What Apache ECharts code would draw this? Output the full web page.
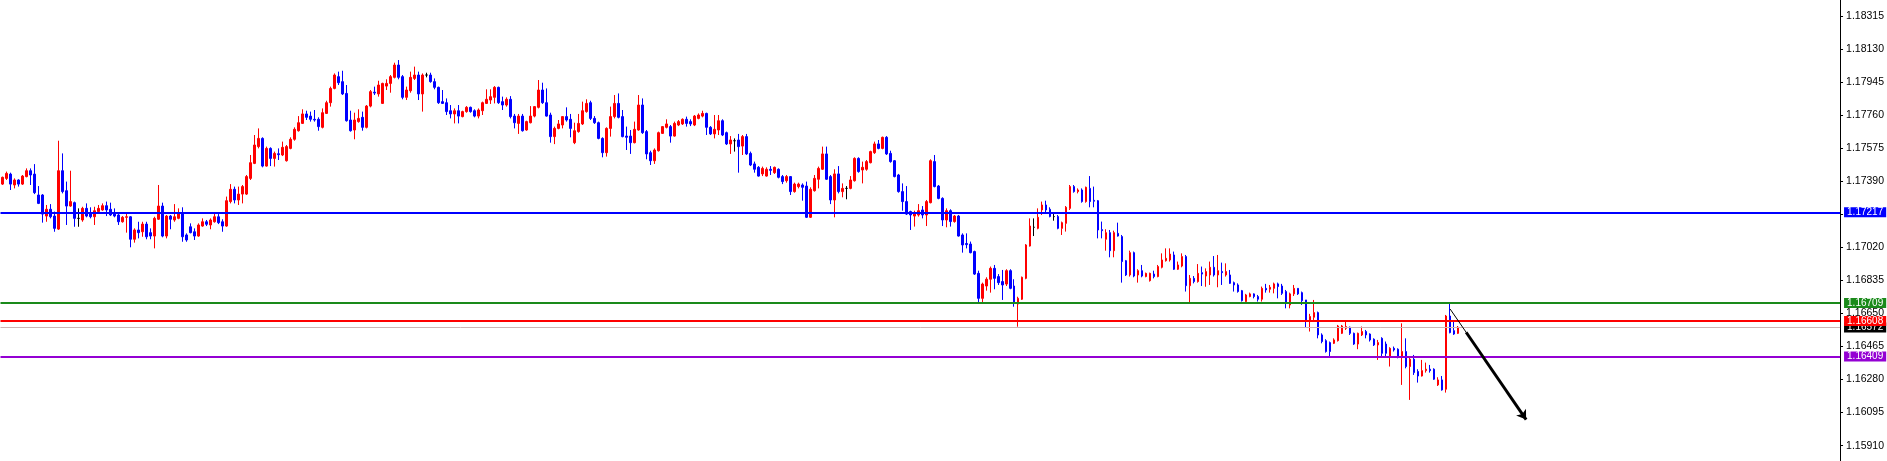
<!DOCTYPE html>
<html><head><meta charset="utf-8">
<script src="https://cdn.jsdelivr.net/npm/echarts@6/dist/echarts.min.js"></script>
<style>html,body{margin:0;padding:0;background:#fff;}#c{width:1887px;height:461px;}</style>
</head><body><div id="c"></div>
<script>
// [open, close, low, high]
const candles = [
[1.17375,1.17413,1.17370,1.17417],[1.17407,1.17435,1.17398,1.17445],[1.17431,1.17375,1.17342,1.17439],[1.17370,1.17398,1.17351,1.17407],
[1.17398,1.17375,1.17361,1.17402],[1.17375,1.17420,1.17370,1.17426],[1.17417,1.17450,1.17413,1.17463],[1.17450,1.17426,1.17370,1.17463],
[1.17431,1.17327,1.17319,1.17487],[1.17314,1.17267,1.17263,1.17364],[1.17314,1.17207,1.17159,1.17319],[1.17196,1.17234,1.17164,1.17258],
[1.17234,1.17192,1.17183,1.17263],[1.17196,1.17127,1.17108,1.17221],[1.17123,1.17450,1.17118,1.17618],[1.17450,1.17333,1.17323,1.17547],
[1.17338,1.17252,1.17146,1.17389],[1.17252,1.17277,1.17248,1.17450],[1.17271,1.17183,1.17136,1.17277],[1.17183,1.17183,1.17136,1.17239],
[1.17174,1.17239,1.17164,1.17248],[1.17239,1.17196,1.17189,1.17267],[1.17215,1.17192,1.17183,1.17245],[1.17192,1.17226,1.17146,1.17248],
[1.17221,1.17239,1.17211,1.17258],[1.17230,1.17254,1.17226,1.17267],[1.17254,1.17230,1.17196,1.17277],[1.17234,1.17202,1.17196,1.17271],
[1.17215,1.17196,1.17189,1.17239],[1.17202,1.17164,1.17146,1.17211],[1.17164,1.17189,1.17159,1.17196],[1.17189,1.17192,1.17103,1.17211],
[1.17192,1.17066,1.17021,1.17196],[1.17066,1.17118,1.17047,1.17127],[1.17118,1.17103,1.17071,1.17164],[1.17108,1.17151,1.17080,1.17164],
[1.17151,1.17080,1.17066,1.17164],[1.17103,1.17084,1.17066,1.17127],[1.17084,1.17183,1.17015,1.17192],[1.17178,1.17252,1.17174,1.17370],
[1.17252,1.17084,1.17077,1.17271],[1.17084,1.17196,1.17071,1.17202],[1.17196,1.17178,1.17122,1.17202],[1.17174,1.17192,1.17164,1.17263],
[1.17183,1.17215,1.17178,1.17239],[1.17215,1.17080,1.17052,1.17245],[1.17090,1.17062,1.17052,1.17099],[1.17136,1.17103,1.17099,1.17155],
[1.17108,1.17084,1.17062,1.17127],[1.17084,1.17146,1.17080,1.17155],[1.17140,1.17164,1.17136,1.17183],[1.17164,1.17150,1.17140,1.17174],
[1.17146,1.17174,1.17122,1.17183],[1.17164,1.17192,1.17159,1.17211],[1.17192,1.17159,1.17151,1.17207],[1.17164,1.17140,1.17108,1.17178],
[1.17140,1.17282,1.17136,1.17305],[1.17277,1.17346,1.17267,1.17375],[1.17346,1.17286,1.17267,1.17361],[1.17286,1.17319,1.17258,1.17361],
[1.17319,1.17361,1.17267,1.17370],[1.17319,1.17417,1.17314,1.17426],[1.17407,1.17495,1.17398,1.17538],[1.17491,1.17594,1.17487,1.17650],
[1.17585,1.17631,1.17575,1.17687],[1.17631,1.17476,1.17469,1.17637],[1.17476,1.17575,1.17473,1.17585],[1.17575,1.17519,1.17476,1.17581],
[1.17519,1.17547,1.17473,1.17557],[1.17545,1.17540,1.17510,1.17575],[1.17538,1.17581,1.17532,1.17613],[1.17506,1.17585,1.17501,1.17594],
[1.17575,1.17626,1.17570,1.17637],[1.17626,1.17682,1.17618,1.17693],[1.17674,1.17719,1.17669,1.17756],[1.17715,1.17768,1.17712,1.17794],
[1.17768,1.17749,1.17734,1.17786],[1.17756,1.17738,1.17725,1.17781],[1.17738,1.17734,1.17725,1.17790],[1.17738,1.17697,1.17674,1.17749],
[1.17693,1.17775,1.17687,1.17799],[1.17771,1.17831,1.17768,1.17842],[1.17831,1.17911,1.17809,1.17921],[1.17911,1.17986,1.17906,1.17995],
[1.17977,1.17943,1.17930,1.18005],[1.17949,1.17880,1.17874,1.18010],[1.17883,1.17730,1.17725,1.17930],[1.17734,1.17674,1.17669,1.17786],
[1.17678,1.17734,1.17626,1.17775],[1.17725,1.17743,1.17719,1.17794],[1.17749,1.17693,1.17674,1.17781],[1.17693,1.17812,1.17687,1.17818],
[1.17812,1.17893,1.17805,1.17902],[1.17890,1.17885,1.17874,1.17921],[1.17880,1.17930,1.17865,1.17954],[1.17827,1.17939,1.17824,1.17943],
[1.17924,1.17939,1.17902,1.17962],[1.17939,1.17977,1.17887,1.17986],[1.17973,1.18042,1.17967,1.18055],[1.18042,1.17973,1.17962,1.18070],
[1.17977,1.17861,1.17850,1.17986],[1.17861,1.17902,1.17846,1.17921],[1.17898,1.17973,1.17887,1.18005],[1.17967,1.17986,1.17958,1.18033],
[1.17986,1.17880,1.17846,1.18005],[1.17880,1.17986,1.17781,1.17995],[1.17986,1.17986,1.17973,1.17999],[1.17986,1.17949,1.17943,1.17999],
[1.17949,1.17917,1.17906,1.17967],[1.17917,1.17831,1.17824,1.17921],[1.17837,1.17827,1.17824,1.17902],[1.17831,1.17781,1.17762,1.17855],
[1.17786,1.17768,1.17743,1.17818],[1.17768,1.17786,1.17715,1.17799],[1.17786,1.17756,1.17715,1.17818],[1.17753,1.17781,1.17749,1.17786],
[1.17781,1.17805,1.17775,1.17812],[1.17805,1.17781,1.17775,1.17809],[1.17786,1.17756,1.17749,1.17794],[1.17756,1.17790,1.17743,1.17799],
[1.17786,1.17831,1.17762,1.17837],[1.17827,1.17850,1.17824,1.17906],[1.17846,1.17865,1.17824,1.17906],[1.17861,1.17917,1.17827,1.17924],
[1.17917,1.17831,1.17824,1.17921],[1.17837,1.17818,1.17790,1.17865],[1.17818,1.17850,1.17809,1.17861],[1.17850,1.17753,1.17743,1.17868],
[1.17756,1.17719,1.17687,1.17768],[1.17715,1.17756,1.17656,1.17768],[1.17756,1.17674,1.17669,1.17768],[1.17678,1.17725,1.17674,1.17730],
[1.17719,1.17756,1.17715,1.17812],[1.17756,1.17809,1.17749,1.17812],[1.17805,1.17902,1.17799,1.17958],[1.17902,1.17831,1.17824,1.17943],
[1.17831,1.17756,1.17753,1.17911],[1.17762,1.17641,1.17607,1.17775],[1.17641,1.17687,1.17599,1.17697],[1.17687,1.17712,1.17682,1.17734],
[1.17706,1.17753,1.17687,1.17756],[1.17753,1.17734,1.17725,1.17805],[1.17738,1.17687,1.17637,1.17768],[1.17607,1.17674,1.17599,1.17719],
[1.17669,1.17715,1.17663,1.17768],[1.17712,1.17786,1.17706,1.17837],[1.17781,1.17827,1.17775,1.17850],[1.17831,1.17743,1.17734,1.17842],
[1.17743,1.17719,1.17712,1.17756],[1.17719,1.17631,1.17626,1.17725],[1.17631,1.17551,1.17525,1.17637],[1.17551,1.17687,1.17529,1.17693],
[1.17687,1.17753,1.17641,1.17809],[1.17753,1.17827,1.17743,1.17874],[1.17827,1.17749,1.17743,1.17883],
[1.17753,1.17641,1.17637,1.17790],[1.17644,1.17637,1.17566,1.17697],[1.17644,1.17607,1.17544,1.17678],[1.17607,1.17682,1.17603,1.17725],
[1.17678,1.17818,1.17674,1.17874],[1.17818,1.17663,1.17656,1.17855],[1.17669,1.17544,1.17514,1.17678],[1.17551,1.17506,1.17482,1.17562],
[1.17506,1.17566,1.17488,1.17575],[1.17562,1.17663,1.17557,1.17669],[1.17659,1.17697,1.17656,1.17700],[1.17693,1.17712,1.17687,1.17738],
[1.17697,1.17644,1.17607,1.17706],[1.17644,1.17715,1.17641,1.17725],[1.17706,1.17725,1.17700,1.17734],[1.17712,1.17738,1.17706,1.17743],
[1.17738,1.17715,1.17697,1.17753],[1.17725,1.17712,1.17700,1.17738],[1.17706,1.17756,1.17700,1.17762],[1.17743,1.17762,1.17738,1.17771],
[1.17756,1.17771,1.17749,1.17786],[1.17771,1.17693,1.17650,1.17775],[1.17693,1.17656,1.17650,1.17700],[1.17656,1.17682,1.17631,1.17762],
[1.17678,1.17730,1.17650,1.17762],[1.17730,1.17650,1.17644,1.17738],[1.17663,1.17600,1.17594,1.17669],[1.17600,1.17622,1.17544,1.17644],
[1.17618,1.17618,1.17557,1.17631],[1.17622,1.17585,1.17439,1.17656],[1.17588,1.17641,1.17538,1.17650],[1.17641,1.17544,1.17538,1.17656],
[1.17547,1.17482,1.17476,1.17557],[1.17488,1.17458,1.17439,1.17501],[1.17469,1.17420,1.17417,1.17476],[1.17432,1.17463,1.17420,1.17473],
[1.17420,1.17458,1.17417,1.17469],[1.17458,1.17452,1.17426,1.17476],[1.17439,1.17469,1.17432,1.17473],[1.17458,1.17413,1.17407,1.17463],
[1.17417,1.17389,1.17375,1.17426],[1.17394,1.17417,1.17383,1.17426],[1.17417,1.17333,1.17314,1.17420],[1.17333,1.17375,1.17327,1.17383],
[1.17361,1.17375,1.17351,1.17383],[1.17370,1.17357,1.17282,1.17379],[1.17364,1.17189,1.17185,1.17389],[1.17189,1.17346,1.17185,1.17357],
[1.17338,1.17407,1.17333,1.17426],[1.17402,1.17463,1.17351,1.17473],[1.17458,1.17544,1.17454,1.17585],[1.17544,1.17402,1.17398,1.17585],
[1.17417,1.17286,1.17263,1.17426],[1.17286,1.17432,1.17189,1.17458],[1.17432,1.17333,1.17323,1.17476],[1.17333,1.17351,1.17301,1.17379],
[1.17351,1.17351,1.17290,1.17364],[1.17351,1.17398,1.17346,1.17420],[1.17394,1.17519,1.17389,1.17525],[1.17519,1.17445,1.17439,1.17525],
[1.17454,1.17469,1.17379,1.17501],[1.17458,1.17501,1.17450,1.17510],[1.17495,1.17557,1.17491,1.17562],[1.17551,1.17600,1.17544,1.17613],
[1.17600,1.17575,1.17570,1.17622],[1.17575,1.17637,1.17570,1.17641],[1.17637,1.17544,1.17538,1.17644],[1.17547,1.17501,1.17495,1.17562],
[1.17506,1.17417,1.17413,1.17510],[1.17426,1.17333,1.17327,1.17432],[1.17333,1.17277,1.17226,1.17379],[1.17277,1.17207,1.17202,1.17364],
[1.17221,1.17202,1.17118,1.17226],[1.17196,1.17215,1.17137,1.17226],[1.17202,1.17226,1.17193,1.17263],
[1.17230,1.17202,1.17183,1.17252],[1.17202,1.17277,1.17140,1.17286],[1.17271,1.17506,1.17267,1.17514],[1.17501,1.17361,1.17357,1.17538],
[1.17364,1.17295,1.17290,1.17370],[1.17295,1.17174,1.17140,1.17301],[1.17174,1.17226,1.17133,1.17239],[1.17226,1.17165,1.17137,1.17234],
[1.17165,1.17196,1.17159,1.17202],[1.17196,1.17084,1.17081,1.17202],[1.17090,1.17034,1.16991,1.17099],[1.17042,1.17036,1.17015,1.17099],
[1.17039,1.16991,1.16987,1.17053],[1.16997,1.16871,1.16866,1.17002],[1.16875,1.16735,1.16711,1.16890],[1.16735,1.16815,1.16711,1.16823],
[1.16804,1.16842,1.16778,1.16853],[1.16842,1.16903,1.16767,1.16913],[1.16903,1.16847,1.16786,1.16922],[1.16857,1.16823,1.16810,1.16871],
[1.16829,1.16810,1.16726,1.16894],[1.16815,1.16890,1.16804,1.16898],[1.16890,1.16791,1.16786,1.16898],[1.16804,1.16707,1.16688,1.16842],
[1.16703,1.16735,1.16576,1.16744],[1.16730,1.16853,1.16726,1.16857],[1.16847,1.17034,1.16842,1.17039],[1.17028,1.17140,1.17025,1.17183],
[1.17133,1.17133,1.17084,1.17183],[1.17127,1.17189,1.17122,1.17239],[1.17230,1.17258,1.17202,1.17277],[1.17258,1.17230,1.17215,1.17282],
[1.17234,1.17193,1.17189,1.17245],[1.17193,1.17193,1.17170,1.17208],[1.17193,1.17127,1.17122,1.17202],[1.17127,1.17159,1.17090,1.17165],
[1.17155,1.17245,1.17109,1.17252],[1.17239,1.17361,1.17230,1.17370],[1.17361,1.17333,1.17327,1.17370],[1.17333,1.17342,1.17323,1.17351],
[1.17342,1.17277,1.17271,1.17351],[1.17277,1.17357,1.17271,1.17361],[1.17351,1.17277,1.17245,1.17420],[1.17284,1.17279,1.17245,1.17361],
[1.17282,1.17118,1.17071,1.17286],[1.17120,1.17114,1.17071,1.17165],[1.17066,1.17103,1.17002,1.17122],[1.17103,1.17002,1.16965,1.17118],
[1.17002,1.17103,1.16965,1.17114],[1.17099,1.17084,1.17081,1.17159],[1.17081,1.16941,1.16823,1.17090],[1.16946,1.16866,1.16860,1.16950],
[1.16866,1.16991,1.16857,1.17002],[1.16991,1.16860,1.16853,1.16997],[1.16866,1.16890,1.16823,1.16898],[1.16890,1.16860,1.16853,1.16922],
[1.16857,1.16875,1.16853,1.16879],[1.16834,1.16875,1.16829,1.16879],[1.16871,1.16857,1.16847,1.16890],[1.16857,1.16913,1.16853,1.16922],
[1.16909,1.16950,1.16903,1.16987],[1.16946,1.16959,1.16941,1.17015],[1.16950,1.16983,1.16941,1.17015],[1.16978,1.16898,1.16894,1.16997],
[1.16898,1.16922,1.16894,1.16941],[1.16916,1.16969,1.16909,1.16987],[1.16969,1.16806,1.16773,1.16978],[1.16806,1.16847,1.16711,1.16866],
[1.16847,1.16829,1.16819,1.16860],[1.16829,1.16875,1.16823,1.16927],[1.16879,1.16871,1.16804,1.16913],[1.16860,1.16885,1.16800,1.16903],
[1.16866,1.16909,1.16810,1.16941],[1.16909,1.16866,1.16857,1.16972],[1.16866,1.16890,1.16797,1.16978],
[1.16885,1.16879,1.16810,1.16935],[1.16866,1.16885,1.16857,1.16931],[1.16866,1.16819,1.16816,1.16894],[1.16823,1.16810,1.16773,1.16829],
[1.16810,1.16773,1.16767,1.16819],[1.16778,1.16722,1.16717,1.16782],[1.16717,1.16754,1.16711,1.16760],[1.16745,1.16760,1.16741,1.16767],
[1.16760,1.16745,1.16735,1.16763],[1.16745,1.16730,1.16717,1.16754],[1.16730,1.16791,1.16717,1.16801],[1.16791,1.16782,1.16767,1.16816],
[1.16786,1.16797,1.16767,1.16810],[1.16791,1.16816,1.16763,1.16823],[1.16816,1.16801,1.16735,1.16823],[1.16804,1.16763,1.16754,1.16816],
[1.16773,1.16707,1.16679,1.16782],[1.16698,1.16760,1.16679,1.16767],[1.16760,1.16791,1.16748,1.16810],[1.16791,1.16760,1.16754,1.16791],
[1.16767,1.16722,1.16698,1.16773],[1.16726,1.16614,1.16573,1.16726],[1.16605,1.16633,1.16549,1.16648],[1.16629,1.16655,1.16614,1.16726],
[1.16655,1.16530,1.16511,1.16661],[1.16530,1.16493,1.16483,1.16539],[1.16498,1.16437,1.16431,1.16506],[1.16487,1.16437,1.16412,1.16493],
[1.16483,1.16502,1.16479,1.16511],[1.16498,1.16580,1.16493,1.16586],[1.16539,1.16580,1.16535,1.16586],[1.16567,1.16577,1.16558,1.16605],
[1.16573,1.16539,1.16530,1.16577],[1.16539,1.16479,1.16474,1.16543],[1.16479,1.16539,1.16450,1.16543],[1.16530,1.16549,1.16524,1.16577],
[1.16549,1.16530,1.16511,1.16558],[1.16535,1.16502,1.16493,1.16539],[1.16506,1.16474,1.16468,1.16511],[1.16474,1.16487,1.16390,1.16502],
[1.16511,1.16427,1.16405,1.16517],[1.16479,1.16427,1.16409,1.16493],[1.16412,1.16455,1.16353,1.16461],[1.16455,1.16446,1.16437,1.16465],
[1.16450,1.16409,1.16399,1.16455],[1.16409,1.16437,1.16250,1.16595],[1.16437,1.16353,1.16343,1.16511],[1.16353,1.16394,1.16166,1.16405],
[1.16394,1.16319,1.16306,1.16418],[1.16325,1.16300,1.16263,1.16338],[1.16300,1.16330,1.16297,1.16390],[1.16330,1.16338,1.16319,1.16375],
[1.16338,1.16330,1.16319,1.16362],[1.16338,1.16282,1.16278,1.16343],[1.16250,1.16278,1.16244,1.16293],[1.16278,1.16222,1.16218,1.16300],
[1.16226,1.16636,1.16207,1.16642],[1.16636,1.16543,1.16539,1.16707],[1.16554,1.16535,1.16530,1.16610],[1.16539,1.16573,1.16535,1.16580]
];
const emptySlotsAfter = 95;
const tickValues = [1.18315,1.18130,1.17945,1.17760,1.17575,1.17390,1.17205,1.17020,1.16835,1.16650,1.16465,1.16280,1.16095,1.15910];
// drawn in this order (later ones on top)
const levelValues = [1.16572, 1.17217, 1.16709, 1.16608, 1.16409];
const levelColors = ['#cdb4b4', '#0000ff', '#1a8a1a', '#ff0000', '#9400d3'];
const levelBoxColors = ['#000000', '#0000ff', '#1a8a1a', '#ff0000', '#9400d3'];
const levelWidths = [1, 2, 2, 2, 2];
// forecast arrow in data space: [candle index, price]
const arrowPath = [[362, 1.16675], [366, 1.16545], [381, 1.16056]];

const categories = [];
for (let i = 0; i < candles.length + emptySlotsAfter; i++) categories.push(String(i));

const FONT = 'Liberation Sans, Arial, sans-serif';
const levelLines = levelValues.map((v, i) => ({
  yAxis: v,
  symbol: 'none',
  lineStyle: { color: levelColors[i], width: levelWidths[i], type: 'solid' },
  label: {
    show: true, position: 'end', distance: 4,
    formatter: v.toFixed(5),
    color: '#fff', backgroundColor: levelBoxColors[i],
    fontFamily: FONT, fontSize: 10,
    padding: [0, 3, 0, 3], lineHeight: 10
  }
}));
const arrowLines = [
  [{ coord: arrowPath[0], symbol: 'none', lineStyle: { color: '#000', width: 1, type: 'solid' }, label: { show: false } },
   { coord: arrowPath[1], symbol: 'none' }],
  [{ coord: arrowPath[1], symbol: 'none', lineStyle: { color: '#000', width: 3, type: 'solid' }, label: { show: false } },
   { coord: arrowPath[2], symbol: 'arrow', symbolSize: 9 }]
];

const chart = echarts.init(document.getElementById('c'), null, { renderer: 'canvas' });
chart.setOption({
  animation: false,
  backgroundColor: '#fff',
  grid: { left: 0.5, right: 46.5, top: 0, bottom: 0 },
  xAxis: { type: 'category', data: categories, show: false, boundaryGap: true },
  yAxis: {
    type: 'value', position: 'right', min: 1.158238, max: 1.184063,
    splitLine: { show: false },
    axisLine: { show: true, lineStyle: { color: '#000', width: 1 } },
    axisTick: { show: true, customValues: tickValues, length: 3, lineStyle: { color: '#000' } },
    axisLabel: { customValues: tickValues, formatter: v => v.toFixed(5), color: '#000', fontSize: 10.5,
                 fontFamily: FONT, margin: 6 }
  },
  series: [{
    type: 'candlestick',
    data: candles,
    barWidth: 2,
    itemStyle: { color: '#ff0000', color0: '#0000ff', borderColor: '#ff0000', borderColor0: '#0000ff',
                 borderColorDoji: '#000000', borderWidth: 1 }
  }, {
    type: 'line',
    data: [],
    silent: true,
    z: 5,
    markLine: {
      silent: true, animation: false, symbol: 'none', precision: 5,
      data: levelLines.concat(arrowLines)
    }
  }]
});
</script>
</body></html>
